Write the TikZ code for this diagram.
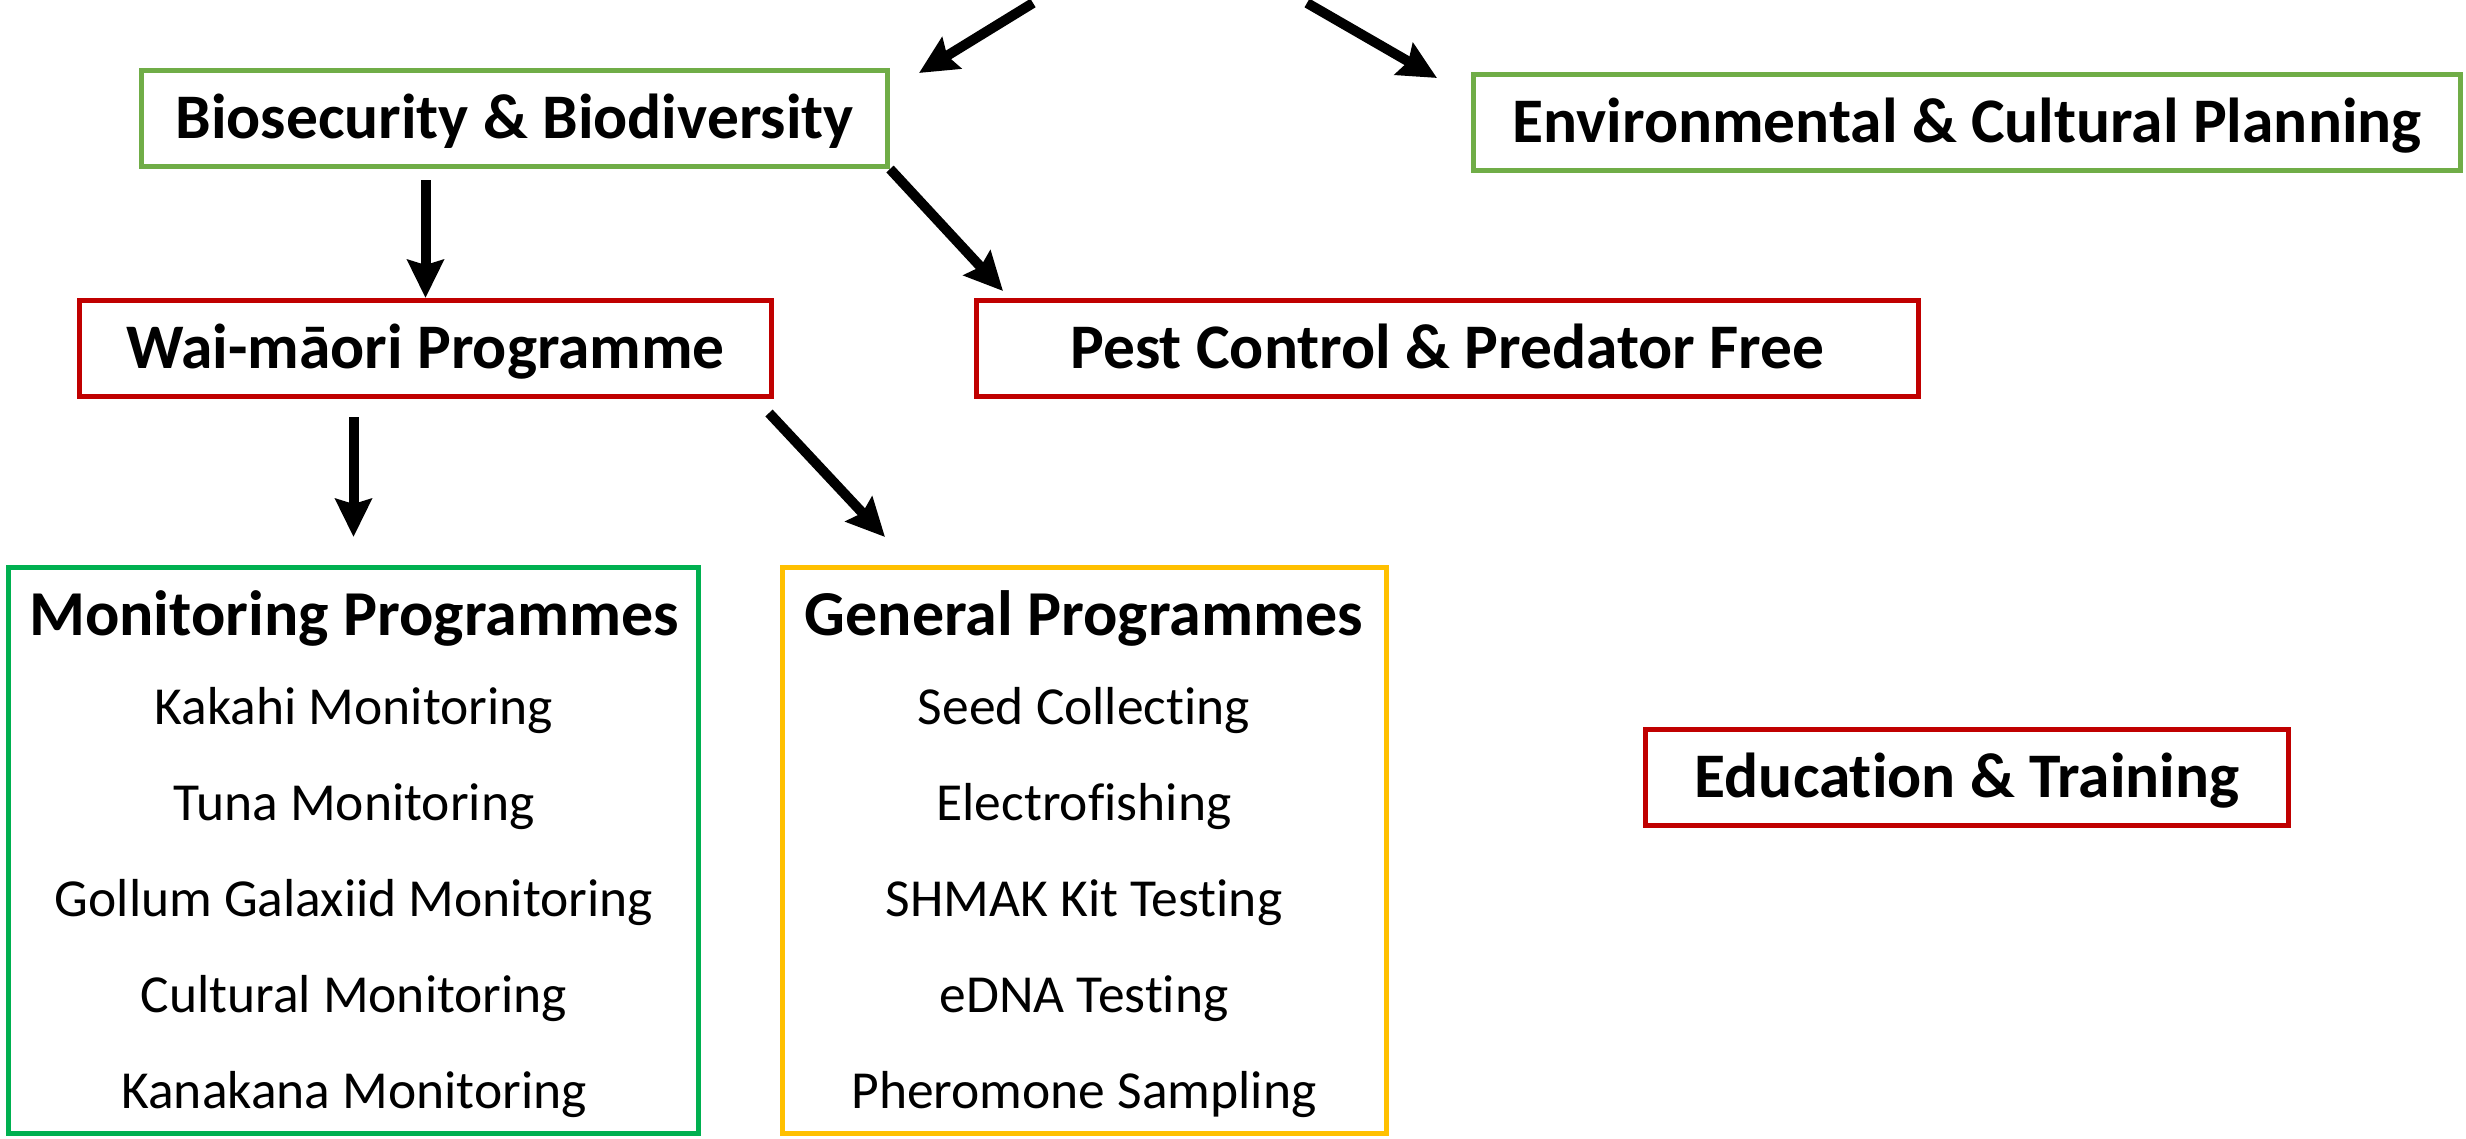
\documentclass[tikz,border=0pt]{standalone}
\usepackage{fontspec}
\setmainfont[Ligatures=NoCommon]{Carlito}
\usetikzlibrary{arrows.meta}
\definecolor{lgreen}{HTML}{70AD47}
\definecolor{dred}{HTML}{C00000}
\definecolor{mgreen}{HTML}{00B050}
\definecolor{gyellow}{HTML}{FFC000}
\tikzset{
  box/.style={draw=#1, line width=5pt, rectangle, inner sep=0pt, text height=40pt, text depth=0pt,
    font=\fontsize{63.5}{70}\selectfont\bfseries},
  bigbox/.style={draw=#1, line width=5pt, rectangle, inner sep=0pt},
  arr/.style={line width=10pt, -{Stealth[length=38pt,width=36pt,inset=5pt]}},
  ttl/.style={anchor=base, font=\fontsize{64}{70}\selectfont\bfseries},
  itm/.style={anchor=base, font=\fontsize{53.5}{60}\selectfont},
}
\begin{document}
\begin{tikzpicture}[x=1pt,y=-1pt]
\useasboundingbox (0,0) rectangle (2466,1138);
\node[box=lgreen, minimum width=746pt, minimum height=96pt] (bio) at (514.5,118.5) {Biosecurity \& Biodiversity};
\node[box=lgreen, minimum width=987pt, minimum height=96pt] (env) at (1967,122.5) {Environmental \& Cultural Planning};
\node[box=dred, minimum width=692pt, minimum height=96pt] (wai) at (425.5,348.5) {Wai-māori Programme};
\node[box=dred, minimum width=942pt, minimum height=96pt] (pest) at (1447.5,348.5) {Pest Control \& Predator Free};
\node[box=dred, minimum width=643pt, minimum height=96pt] (edu) at (1967,777.5) {Education \& Training};
\node[bigbox=mgreen, minimum width=690pt, minimum height=566pt] (mon) at (353.5,850.5) {};
\node[bigbox=gyellow, minimum width=604pt, minimum height=566pt] (gen) at (1084.5,850.5) {};

\node[ttl] (mont) at (354,635) {Monitoring Programmes};
\node[itm] (m1) at (354,724) {Kakahi Monitoring};
\node[itm] (m2) at (354,820) {Tuna Monitoring};
\node[itm] (m3) at (354,916) {Gollum Galaxiid Monitoring};
\node[itm] (m4) at (354,1012) {Cultural Monitoring};
\node[itm] (m5) at (354,1108) {Kanakana Monitoring};

\node[ttl] (gent) at (1084,635) {General Programmes};
\node[itm] (g1) at (1084,724) {Seed Collecting};
\node[itm] (g2) at (1084,820) {Electrofishing};
\node[itm] (g3) at (1084,916) {SHMAK Kit Testing};
\node[itm] (g4) at (1084,1012) {eDNA Testing};
\node[itm] (g5) at (1084,1108) {Pheromone Sampling};

\coordinate (t1) at (1033,3);
\coordinate (t2) at (1307,3);
\draw[arr] (t1) -- ([xshift=29pt,yshift=-5pt]bio.north east);
\draw[arr] (t2) -- ([xshift=-34pt,yshift=-6pt]env.north west);
\draw[arr] ([yshift=-11pt]wai.north |- bio.south) -- (wai.north);
\draw[arr] (bio.south east) -- ([xshift=29pt,yshift=7pt]pest.north west);
\draw[arr] ([yshift=-18pt]mon.north |- wai.south) -- ([yshift=28pt]mon.north);
\draw[arr] ([xshift=-5pt,yshift=-14pt]wai.south east) -- ([xshift=105pt,yshift=28pt]gen.north west);
\end{tikzpicture}
\end{document}
